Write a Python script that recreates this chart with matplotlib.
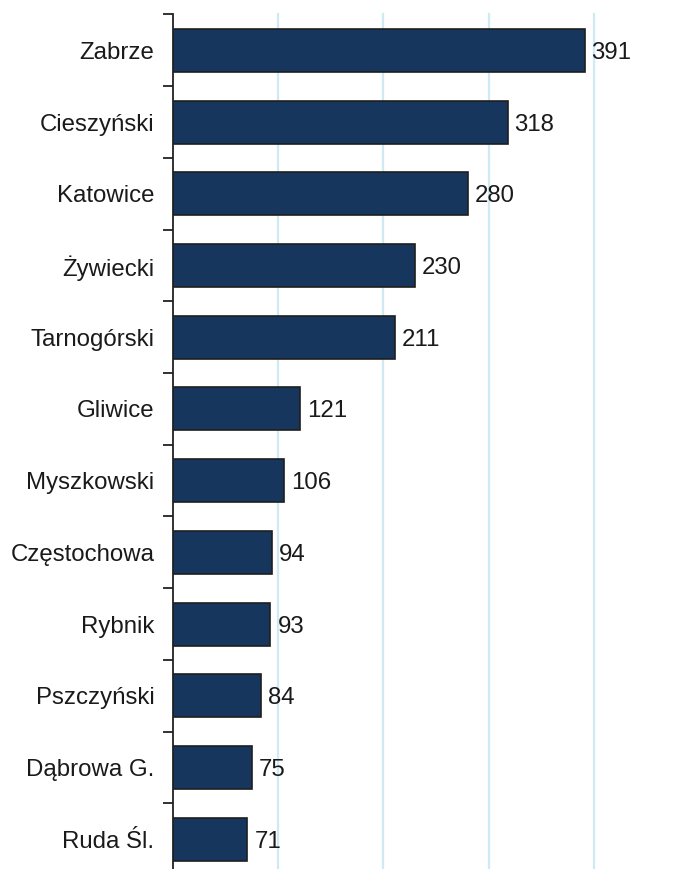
import matplotlib
matplotlib.use("Agg")
import matplotlib.pyplot as plt
import numpy as np

categories = ["Zabrze", "Cieszyński", "Katowice", "Żywiecki", "Tarnogórski", "Gliwice",
              "Myszkowski", "Częstochowa", "Rybnik", "Pszczyński", "Dąbrowa G.", "Ruda Śl."]
values = [391, 318, 280, 230, 211, 121, 106, 94, 93, 84, 75, 71]

plt.rcParams['font.family'] = ['Liberation Sans', 'DejaVu Sans']

fig = plt.figure(figsize=(6.91, 8.69), dpi=100)
top_px, bot_px = 14.5, 875.0
ax = fig.add_axes([172.5/691, 1 - bot_px/869, (594 - 172.5)/691, (bot_px - top_px)/869])

y = np.arange(len(categories))
ax.barh(y, values, height=0.6, color="#17365D", edgecolor="#1f1f1f",
        linewidth=1.2, zorder=3)
for yi, v in zip(y, values):
    ax.annotate(str(v), (v, yi), xytext=(5, 0), textcoords="offset points",
                va="center_baseline", ha="left", fontsize=17.3, color="#1a1a1a", zorder=4)

ax.set_xlim(0, 400)
ax.set_ylim(len(categories) - 0.5, -0.5)

for gx in [100, 200, 300, 400]:
    ax.axvline(gx, color="#CFEAF2", linewidth=1.6, zorder=1, clip_on=False)

ax.set_xticks([])
ax.set_yticks(np.arange(-0.5, len(categories), 1.0))
ax.set_yticklabels([])
ax.tick_params(axis="y", which="major", length=7, width=1.3, color="#222222", direction="out")
ax.set_yticks(y, minor=True)
ax.set_yticklabels(categories, minor=True, fontsize=17.3, color="#1a1a1a")
ax.tick_params(axis="y", which="minor", length=0, pad=13)

for s in ["top", "right", "bottom"]:
    ax.spines[s].set_visible(False)
ax.spines["left"].set_color("#222222")
ax.spines["left"].set_linewidth(1.3)

fig.savefig("out.png", dpi=100)
